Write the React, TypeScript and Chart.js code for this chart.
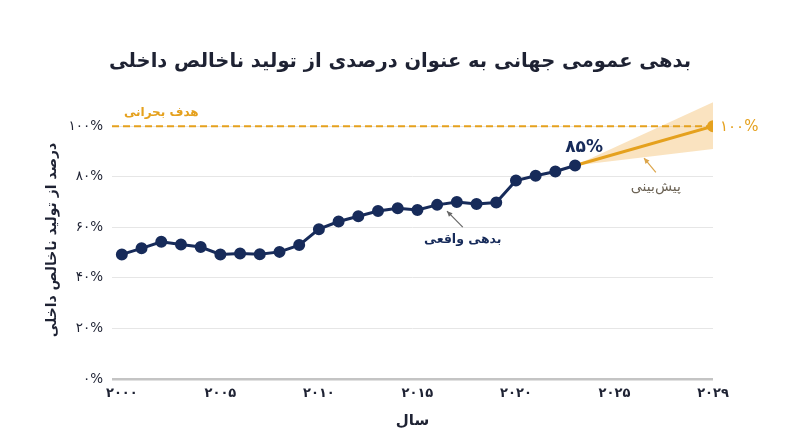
import { useEffect, useRef } from 'react';
import { Chart, registerables, Plugin } from 'chart.js';

Chart.register(...registerables);

// actual debt, % of GDP
const years = [
  2000, 2001, 2002, 2003, 2004, 2005, 2006, 2007, 2008, 2009, 2010, 2011,
  2012, 2013, 2014, 2015, 2016, 2017, 2018, 2019, 2020, 2021, 2022, 2023,
];
const debtValues = [
  49.3, 51.7, 54.3, 53.2, 52.2, 49.3, 49.7, 49.4, 50.3, 53.0, 59.3, 62.3,
  64.4, 66.5, 67.6, 66.9, 68.9, 70.0, 69.2, 69.8, 78.5, 80.4, 82.1, 84.5,
];

// forecast and its uncertainty band
const forecastYears = [2023, 2030];
const forecastValues = [84.5, 100];
const forecastHigh = [84.5, 109.5];
const forecastLow = [84.5, 91];

const targetValue = 100;

const xTickYears = [2000, 2005, 2010, 2015, 2020, 2025, 2030];
const xTickLabels = ['۲۰۰۰', '۲۰۰۵', '۲۰۱۰', '۲۰۱۵', '۲۰۲۰', '۲۰۲۵', '۲۰۲۹'];
const yTickValues = [0, 20, 40, 60, 80, 100];
const yTickLabels = ['۰%', '۲۰%', '۴۰%', '۶۰%', '۸۰%', '۱۰۰%'];

const NAVY = '#172b5a';
const ORANGE = '#e5a11e';
const DARK = '#1e2233';
const FONT = '"DejaVu Sans", sans-serif';

const drawArrow = (
  ctx: CanvasRenderingContext2D,
  x1: number, y1: number, x2: number, y2: number, color: string,
) => {
  const a = Math.atan2(y2 - y1, x2 - x1);
  ctx.strokeStyle = color;
  ctx.fillStyle = color;
  ctx.lineWidth = 1.2;
  ctx.beginPath();
  ctx.moveTo(x1, y1);
  ctx.lineTo(x2, y2);
  ctx.stroke();
  ctx.beginPath();
  ctx.moveTo(x2, y2);
  ctx.lineTo(x2 - 6 * Math.cos(a - 0.45), y2 - 6 * Math.sin(a - 0.45));
  ctx.lineTo(x2 - 6 * Math.cos(a + 0.45), y2 - 6 * Math.sin(a + 0.45));
  ctx.closePath();
  ctx.fill();
};

const annotations: Plugin<'line'> = {
  id: 'annotations',
  afterDraw(chart) {
    const { ctx } = chart;
    const x = chart.scales.x;
    const y = chart.scales.y;
    const px = (v: number) => x.getPixelForValue(v);
    const py = (v: number) => y.getPixelForValue(v);
    const lastYear = years[years.length - 1];
    const lastVal = debtValues[debtValues.length - 1];
    const endYear = forecastYears[forecastYears.length - 1];

    ctx.save();
    ctx.textBaseline = 'middle';

    // title
    ctx.textAlign = 'center';
    ctx.fillStyle = DARK;
    ctx.font = `bold 19.5px ${FONT}`;
    ctx.fillText('بدهی عمومی جهانی به عنوان درصدی از تولید ناخالص داخلی', chart.width / 2, 62);

    // target label
    ctx.fillStyle = ORANGE;
    ctx.font = `bold 12px ${FONT}`;
    ctx.fillText('هدف بحرانی', px(2002), py(targetValue) - 13);

    // last actual value
    ctx.fillStyle = NAVY;
    ctx.font = `bold 17px ${FONT}`;
    ctx.fillText('۸۵%', px(lastYear) + 9, py(lastVal) - 18);

    // forecast end value
    ctx.textAlign = 'left';
    ctx.fillStyle = ORANGE;
    ctx.font = `15px ${FONT}`;
    ctx.fillText('۱۰۰%', px(endYear) + 7, py(targetValue) + 1);

    // series callouts
    ctx.textAlign = 'center';
    ctx.fillStyle = NAVY;
    ctx.font = `bold 12.5px ${FONT}`;
    ctx.fillText('بدهی واقعی', px(2017.3), py(55));
    drawArrow(ctx, px(2017.3), py(60.1), px(2016.5), py(66.4), '#666');

    ctx.fillStyle = '#6d6456';
    ctx.font = `14px ${FONT}`;
    ctx.fillText('پیش‌بینی', px(2027.1), py(75.9));
    drawArrow(ctx, px(2027.1), py(81.8), px(2026.5), py(87.4), '#dca54a');

    ctx.restore();
  },
};

export default function App() {
  const chartRef = useRef<HTMLCanvasElement>(null);
  const chartInstance = useRef<Chart | null>(null);

  useEffect(() => {
    document.body.style.margin = '0';
    if (!chartRef.current) return;
    if (chartInstance.current) chartInstance.current.destroy();
    const ctx = chartRef.current.getContext('2d');
    if (!ctx) return;

    chartInstance.current = new Chart(ctx, {
      type: 'line',
      data: {
        datasets: [
          {
            label: 'band-high',
            data: forecastYears.map((yr, i) => ({ x: yr, y: forecastHigh[i] })),
            borderWidth: 0,
            pointRadius: 0,
            backgroundColor: 'rgba(242, 178, 80, 0.36)',
            fill: '+1',
            order: 5,
          },
          {
            label: 'band-low',
            data: forecastYears.map((yr, i) => ({ x: yr, y: forecastLow[i] })),
            borderWidth: 0,
            pointRadius: 0,
            fill: false,
            order: 5,
          },
          {
            label: 'target',
            data: [
              { x: 1999.5, y: targetValue },
              { x: forecastYears[forecastYears.length - 1], y: targetValue },
            ],
            borderColor: ORANGE,
            borderWidth: 2,
            borderDash: [7, 4],
            pointRadius: 0,
            fill: false,
            order: 4,
          },
          {
            label: 'forecast',
            data: forecastYears.map((yr, i) => ({ x: yr, y: forecastValues[i] })),
            borderColor: ORANGE,
            backgroundColor: ORANGE,
            borderWidth: 3,
            pointRadius: [0, 4.5],
            fill: false,
            order: 2,
          },
          {
            label: 'actual',
            data: years.map((yr, i) => ({ x: yr, y: debtValues[i] })),
            borderColor: NAVY,
            backgroundColor: NAVY,
            borderWidth: 3,
            pointRadius: 4.5,
            fill: false,
            order: 1,
          },
        ],
      },
      options: {
        responsive: false,
        animation: false,
        layout: { padding: { top: 101, right: 87, bottom: 8, left: 0 } },
        plugins: {
          legend: { display: false },
          tooltip: { enabled: false },
        },
        scales: {
          x: {
            type: 'linear',
            min: 1999.5,
            max: 2030,
            afterBuildTicks: (scale) => {
              scale.ticks = xTickYears.map((v) => ({ value: v }));
            },
            afterFit: (scale) => {
              scale.height = 60;
            },
            grid: { display: false, drawTicks: false },
            border: { display: false },
            ticks: {
              autoSkip: false,
              maxRotation: 0,
              padding: 7,
              color: DARK,
              font: { family: FONT, size: 13, weight: 'bold' },
              callback: (_v, i) => xTickLabels[i],
            },
            title: {
              display: true,
              text: 'سال',
              color: DARK,
              font: { family: FONT, size: 15, weight: 'bold' },
              padding: { top: 0, bottom: 9 },
            },
          },
          y: {
            min: 0,
            max: 110,
            afterBuildTicks: (scale) => {
              scale.ticks = yTickValues.map((v) => ({ value: v }));
            },
            afterFit: (scale) => {
              scale.width = 112;
            },
            grid: {
              drawTicks: false,
              color: (c) => (c.tick && c.tick.value === 0 ? '#c4c4c4' : '#e6e6e6'),
              lineWidth: (c) => (c.tick && c.tick.value === 0 ? 2.5 : 1),
            },
            border: { display: false },
            ticks: {
              padding: 9,
              color: DARK,
              font: { family: FONT, size: 13.5 },
              callback: (_v, i) => yTickLabels[i],
            },
            title: {
              display: true,
              text: 'درصد از تولید ناخالص داخلی',
              color: DARK,
              font: { family: FONT, size: 14, weight: 'bold' },
              padding: { top: 44, bottom: 0 },
            },
          },
        },
      },
      plugins: [annotations],
    });

    return () => {
      if (chartInstance.current) {
        chartInstance.current.destroy();
        chartInstance.current = null;
      }
    };
  }, []);

  return (
    <div style={{ width: 800, height: 447, background: '#fff' }}>
      <canvas ref={chartRef} width={800} height={447}></canvas>
    </div>
  );
}
